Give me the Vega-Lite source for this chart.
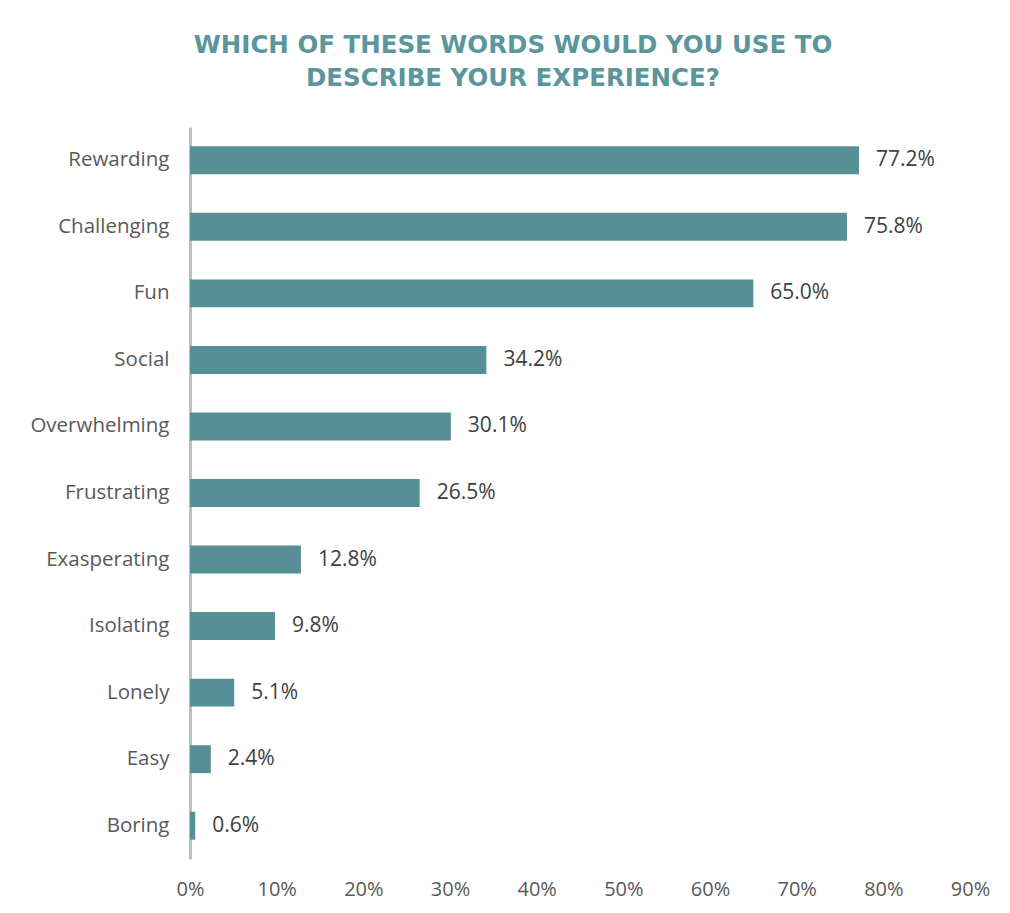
{
  "$schema": "https://vega.github.io/schema/vega-lite/v6.json",
  "autosize": {"type": "none"},
  "padding": {"left": 190, "top": 127, "right": 40, "bottom": 54},
  "width": 780,
  "height": 732,
  "background": "white",
  "title": {
    "text": ["WHICH OF THESE WORDS WOULD YOU USE TO", "DESCRIBE YOUR EXPERIENCE?"],
    "anchor": "middle",
    "frame": "group",
    "dx": -67,
    "offset": 36,
    "font": "DejaVu Sans",
    "fontSize": 24.5,
    "fontWeight": "bold",
    "color": "#5a969c",
    "lineHeight": 33
  },
  "data": {
    "values": [
      {"word": "Rewarding", "share": 0.772},
      {"word": "Challenging", "share": 0.758},
      {"word": "Fun", "share": 0.650},
      {"word": "Social", "share": 0.342},
      {"word": "Overwhelming", "share": 0.301},
      {"word": "Frustrating", "share": 0.265},
      {"word": "Exasperating", "share": 0.128},
      {"word": "Isolating", "share": 0.098},
      {"word": "Lonely", "share": 0.051},
      {"word": "Easy", "share": 0.024},
      {"word": "Boring", "share": 0.006}
    ]
  },
  "encoding": {
    "y": {
      "field": "word",
      "type": "nominal",
      "sort": null,
      "title": null,
      "scale": {"paddingInner": 0.58, "paddingOuter": 0.29},
      "axis": {
        "domainColor": "#bfbfbf",
        "domainWidth": 3,
        "ticks": false,
        "labelPadding": 21,
        "labelFont": "Open Sans",
        "labelFontSize": 20.5,
        "labelColor": "#595959"
      }
    },
    "x": {
      "field": "share",
      "type": "quantitative",
      "title": null,
      "scale": {"domain": [0, 0.9], "nice": false},
      "axis": {
        "format": ".0%",
        "values": [0, 0.1, 0.2, 0.3, 0.4, 0.5, 0.6, 0.7, 0.8, 0.9],
        "domain": false,
        "ticks": false,
        "grid": false,
        "labelPadding": 20,
        "labelFont": "Open Sans",
        "labelFontSize": 20,
        "labelColor": "#595959",
        "labelFlush": false
      }
    }
  },
  "layer": [
    {"mark": {"type": "bar", "color": "#568f96"}},
    {
      "mark": {"type": "text", "align": "left", "baseline": "middle", "dx": 17, "font": "Open Sans", "fontSize": 21, "color": "#404040"},
      "encoding": {"text": {"field": "share", "format": ".1%"}}
    }
  ],
  "config": {"view": {"stroke": null}}
}
